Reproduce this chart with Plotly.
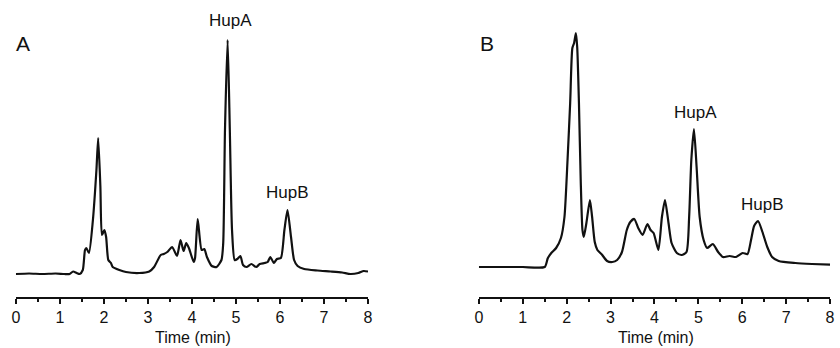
import plotly.graph_objects as go

# ---------------- data ----------------
time_a = [0, 0.3, 0.6, 0.9, 1.1, 1.22, 1.30, 1.38, 1.45, 1.52, 1.57, 1.60, 1.66, 1.75, 1.83, 1.87,
          1.92, 1.955, 2.01, 2.05, 2.10, 2.16, 2.20, 2.35, 2.50, 2.80, 3.03, 3.14, 3.29, 3.36, 3.44,
          3.55, 3.66, 3.74, 3.81, 3.87, 3.93, 4.04, 4.07, 4.13, 4.22, 4.28, 4.34, 4.45, 4.56, 4.67,
          4.71, 4.75, 4.81, 4.86, 4.91, 4.97, 5.03, 5.10, 5.16, 5.24, 5.35, 5.46, 5.54, 5.65, 5.72,
          5.78, 5.86, 5.93, 6.02, 6.10, 6.17, 6.25, 6.32, 6.40, 6.55, 6.85, 7.15, 7.41, 7.60, 7.78,
          7.90, 8.0]
signal_a = [0, 0.5, 0, 0.5, 0, 0, 2.5, 1, 0, 4, 24, 26, 21, 54, 104, 136,
            87, 39, 44, 37, 14, 11, 7, 4, 2, 1, 2.5, 7, 19, 20, 22,
            27, 18, 34, 23, 31, 26, 12, 16, 55, 24, 25, 17, 8, 7, 14,
            31, 144, 234, 144, 44, 14, 15, 18, 9, 7, 10, 7, 10, 11, 12,
            17, 11, 15, 16, 44, 64, 37, 14, 8, 5, 3.5, 2.5, 1.5, 0, 1,
            3, 2.5]

time_b = [0, 0.5, 1.0, 1.50, 1.57, 1.65, 1.76, 1.87, 1.95, 2.02, 2.08, 2.13, 2.17, 2.21, 2.24,
          2.28, 2.32, 2.36, 2.39, 2.45, 2.53, 2.58, 2.64, 2.70, 2.81, 2.92, 3.04, 3.15, 3.26,
          3.37, 3.45, 3.54, 3.63, 3.73, 3.84, 3.91, 3.98, 4.09, 4.17, 4.24, 4.32, 4.39, 4.51,
          4.62, 4.73, 4.79, 4.84, 4.90, 4.96, 5.03, 5.12, 5.20, 5.33, 5.45, 5.56, 5.71, 5.86,
          6.01, 6.12, 6.20, 6.27, 6.36, 6.46, 6.57, 6.68, 6.83, 7.21, 7.59, 8.0]
signal_b = [0, 0, 0, 0, 8.7, 14, 19, 29, 50, 107, 164, 219, 224, 234, 220,
            164, 87, 37, 30, 44, 67, 50, 25, 17, 12, 6, 5, 7, 15,
            37, 45, 48, 39, 32, 43, 37, 34, 17, 50, 67, 44, 24, 14,
            12, 15, 50, 107, 138, 100, 50, 27, 19, 23, 15, 10, 11, 10,
            14, 13, 27, 41, 46, 35, 20, 10, 6, 4, 3, 2.3]

x_ticks = [0, 1, 2, 3, 4, 5, 6, 7, 8]
x_tick_labels = ["0", "1", "2", "3", "4", "5", "6", "7", "8"]

# peak labels: (panel, time, signal, text)
peak_labels = [
    ("a", 4.88, 254, "HupA"),
    ("a", 6.16, 82, "HupB"),
    ("b", 4.94, 155, "HupA"),
    ("b", 6.47, 63, "HupB"),
]
panel_letters = ["A", "B"]
axis_title = "Time (min)"

# ---------------- figure ----------------
W, H = 840, 348
FONT = "Liberation Sans, Arial, Helvetica, sans-serif"
INK = "#111111"

fig = go.Figure()
fig.add_trace(go.Scatter(x=time_a, y=signal_a, mode="lines", xaxis="x", yaxis="y",
                         line=dict(color=INK, width=2.2, shape="spline", smoothing=0.6),
                         showlegend=False, hoverinfo="skip"))
fig.add_trace(go.Scatter(x=time_b, y=signal_b, mode="lines", xaxis="x2", yaxis="y2",
                         line=dict(color=INK, width=2.2, shape="spline", smoothing=0.6),
                         showlegend=False, hoverinfo="skip"))

ydom = [51 / H, 1.0]
xaxis_common = dict(
    range=[0, 8], showgrid=False, zeroline=False, showline=True, linecolor=INK, linewidth=1.6,
    ticks="outside", ticklen=5, tickwidth=1.6, tickcolor=INK,
    tickvals=x_ticks, ticktext=x_tick_labels,
    tickfont=dict(family=FONT, size=16, color=INK),
    minor=dict(dtick=0.5, ticks="outside", ticklen=3, tickwidth=1.6, tickcolor=INK, showgrid=False),
    fixedrange=True,
)
yaxis_common = dict(visible=False, showgrid=False, zeroline=False, fixedrange=True, domain=ydom)

fig.update_layout(
    width=W, height=H,
    margin=dict(l=0, r=0, t=0, b=0),
    paper_bgcolor="white", plot_bgcolor="white",
    xaxis=dict(domain=[12 / W, 368 / W], anchor="y", **xaxis_common),
    xaxis2=dict(domain=[480 / W, 835 / W], anchor="y2", **xaxis_common),
    yaxis=dict(range=[-23, 274], anchor="x", **yaxis_common),
    yaxis2=dict(range=[-30, 267], anchor="x2", **yaxis_common),
    font=dict(family=FONT, color=INK),
)

ann = []
for panel, t, s, txt in peak_labels:
    xr, yr = ("x", "y") if panel == "a" else ("x2", "y2")
    ann.append(dict(x=t, y=s, xref=xr, yref=yr, text=txt, showarrow=False,
                    font=dict(family=FONT, size=17, color=INK), xanchor="center", yanchor="middle"))

ann.append(dict(x=19 / W, y=1 - 43 / H, xref="paper", yref="paper", text=panel_letters[0],
                showarrow=False, font=dict(family=FONT, size=21, color=INK),
                xanchor="center", yanchor="middle"))
ann.append(dict(x=488.5 / W, y=1 - 43 / H, xref="paper", yref="paper", text=panel_letters[1],
                showarrow=False, font=dict(family=FONT, size=21, color=INK),
                xanchor="center", yanchor="middle"))

ann.append(dict(x=191 / W, y=1 - 337 / H, xref="paper", yref="paper", text=axis_title,
                showarrow=False, font=dict(family=FONT, size=16, color=INK),
                xanchor="center", yanchor="middle"))
ann.append(dict(x=659 / W, y=1 - 337 / H, xref="paper", yref="paper", text=axis_title,
                showarrow=False, font=dict(family=FONT, size=16, color=INK),
                xanchor="center", yanchor="middle"))

fig.update_layout(annotations=ann)
fig.write_html("out.html")
